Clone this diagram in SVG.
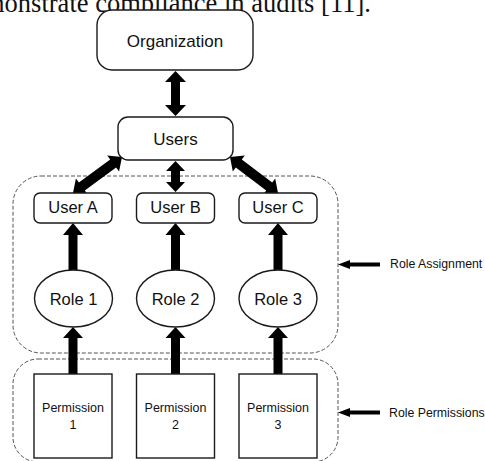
<svg xmlns="http://www.w3.org/2000/svg" width="485" height="461" viewBox="0 0 485 461">
<style>
.box{fill:#fff;stroke:#1a1a1a;stroke-width:1.4}
.grp{fill:none;stroke:#555;stroke-width:1;stroke-dasharray:4 2}
.lbl{font-family:"Liberation Sans",Arial,sans-serif;fill:#111;text-anchor:middle}
.big{font-size:17px}
.mid{font-size:16.5px}
.sm{font-size:12.5px}
.side{font-family:"Liberation Sans",Arial,sans-serif;font-size:12.3px;fill:#111}
.arr{fill:#000}
</style>
<rect width="485" height="461" fill="#fff"/>
<text x="-41" y="12" style="font-family:'Liberation Serif','Times New Roman',serif;font-size:26.5px;fill:#111">demonstrate compliance in audits [11].</text>

<g id="group-role-assignment"><rect class="grp" x="13" y="176" width="325" height="177" rx="28"/></g>
<g id="group-role-permissions"><rect class="grp" x="13" y="359" width="325" height="103" rx="25"/></g>

<g id="connectors">
  <polygon class="arr" points="175.5,71 186,82 180,82 180,105 186,105 175.5,116 165,105 171,105 171,82 165,82"/>
  <polygon class="arr" points="175.5,161 185,171 180,171 180,182 185,182 175.5,192 166,182 171,182 171,171 166,171"/>
  <g transform="translate(122,157) rotate(143.7)">
    <polygon class="arr" points="0,0 11,-10 11,-5 49.8,-5 49.8,-10 60.8,0 49.8,10 49.8,5 11,5 11,10"/>
  </g>
  <g transform="translate(230,157) rotate(36.87)">
    <polygon class="arr" points="0,0 11,-10 11,-5 49,-5 49,-10 60,0 49,10 49,5 11,5 11,10"/>
  </g>
  <polygon class="arr" points="73,223 83,235 77.5,235 77.5,271 68.5,271 68.5,235 63,235"/>
  <polygon class="arr" points="175.5,223 185.5,235 180,235 180,271 171,271 171,235 165.5,235"/>
  <polygon class="arr" points="278,223 288,235 282.5,235 282.5,271 273.5,271 273.5,235 268,235"/>
  <polygon class="arr" points="73,327 83,338 77.5,338 77.5,374 68.5,374 68.5,338 63,338"/>
  <polygon class="arr" points="175.5,327 185.5,338 180,338 180,374 171,374 171,338 165.5,338"/>
  <polygon class="arr" points="278,327 288,338 282.5,338 282.5,374 273.5,374 273.5,338 268,338"/>
  <polygon class="arr" points="338,264.5 350,260 350,262.5 380,262.5 380,266.5 350,266.5 350,269"/>
  <polygon class="arr" points="338,412.5 350,408 350,410.5 380,410.5 380,414.5 350,414.5 350,417"/>
</g>

<g id="organization"><rect class="box" x="97" y="10" width="156" height="60" rx="15"/><text class="lbl big" x="175" y="47">Organization</text></g>
<g id="users"><rect class="box" x="118" y="117" width="115" height="43" rx="10"/><text class="lbl big" x="175.5" y="145">Users</text></g>

<g id="user-a"><rect class="box" x="34" y="193" width="78" height="30" rx="6"/><text class="lbl mid" x="73" y="213">User A</text></g>
<g id="user-b"><rect class="box" x="136.5" y="193" width="78" height="30" rx="6"/><text class="lbl mid" x="175.5" y="213">User B</text></g>
<g id="user-c"><rect class="box" x="239" y="193" width="78" height="30" rx="6"/><text class="lbl mid" x="278" y="213">User C</text></g>

<g id="role-1"><ellipse class="box" cx="73.5" cy="298.5" rx="39" ry="28.5"/><text class="lbl mid" x="73.5" y="305">Role 1</text></g>
<g id="role-2"><ellipse class="box" cx="175.5" cy="298.5" rx="39" ry="28.5"/><text class="lbl mid" x="175.5" y="305">Role 2</text></g>
<g id="role-3"><ellipse class="box" cx="278" cy="298.5" rx="39" ry="28.5"/><text class="lbl mid" x="278" y="305">Role 3</text></g>

<g id="permission-1"><rect class="box" x="34" y="374" width="78" height="84"/><text class="lbl sm" x="73" y="412">Permission</text><text class="lbl sm" x="73" y="429">1</text></g>
<g id="permission-2"><rect class="box" x="136.5" y="374" width="78" height="84"/><text class="lbl sm" x="175.5" y="412">Permission</text><text class="lbl sm" x="175.5" y="429">2</text></g>
<g id="permission-3"><rect class="box" x="239" y="374" width="78" height="84"/><text class="lbl sm" x="278" y="412">Permission</text><text class="lbl sm" x="278" y="429">3</text></g>

<g id="label-role-assignment"><text class="side" x="390" y="268">Role Assignment</text></g>
<g id="label-role-permissions"><text class="side" x="389" y="417">Role Permissions</text></g>
</svg>
